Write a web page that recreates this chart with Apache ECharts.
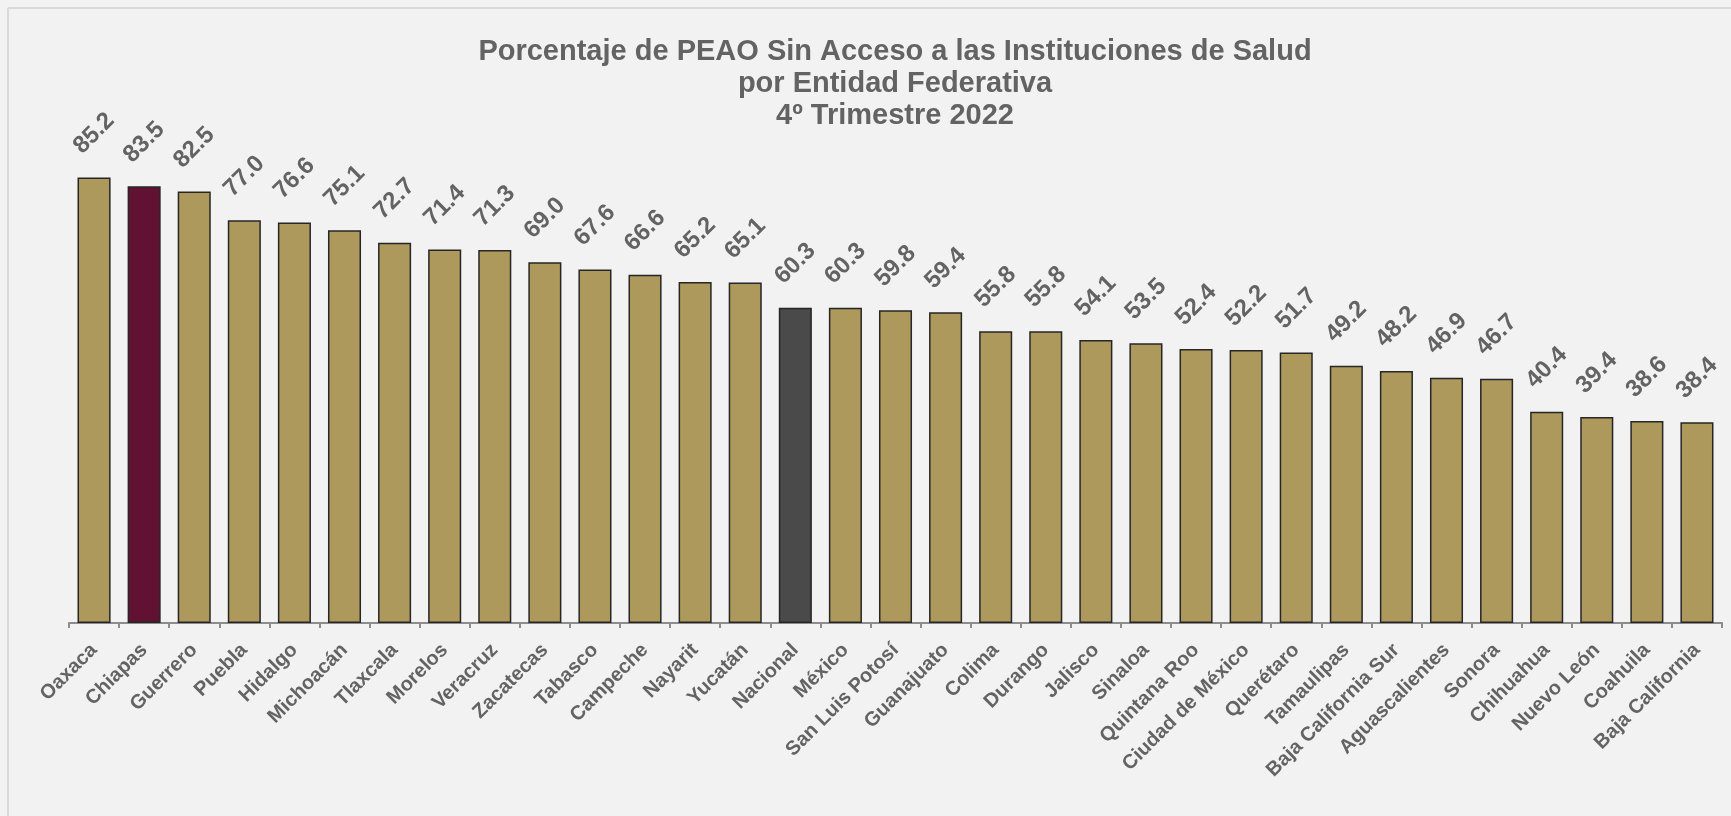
<!DOCTYPE html>
<html>
<head>
<meta charset="utf-8">
<script src="https://cdn.jsdelivr.net/npm/echarts@6/dist/echarts.min.js"></script>
<style>
html,body{margin:0;padding:0;background:#f2f2f2;}
#chart{width:1731px;height:816px;}
</style>
</head>
<body>
<div id="chart"></div>
<script>
const titleText = 'Porcentaje de PEAO Sin Acceso a las Instituciones de Salud\npor Entidad Federativa\n4º Trimestre 2022';
const categories = ['Oaxaca','Chiapas','Guerrero','Puebla','Hidalgo','Michoacán','Tlaxcala','Morelos','Veracruz','Zacatecas','Tabasco','Campeche','Nayarit','Yucatán','Nacional','México','San Luis Potosí','Guanajuato','Colima','Durango','Jalisco','Sinaloa','Quintana Roo','Ciudad de México','Querétaro','Tamaulipas','Baja California Sur','Aguascalientes','Sonora','Chihuahua','Nuevo León','Coahuila','Baja California'];
const values = [85.2,83.5,82.5,77.0,76.6,75.1,72.7,71.4,71.3,69.0,67.6,66.6,65.2,65.1,60.3,60.3,59.8,59.4,55.8,55.8,54.1,53.5,52.4,52.2,51.7,49.2,48.2,46.9,46.7,40.4,39.4,38.6,38.4];
const highlight = {'Chiapas':'#611232','Nacional':'#4a4a4a'};
const baseColor = '#ae995c';

const chart = echarts.init(document.getElementById('chart'));
const FONT = '"Liberation Sans", Arial, sans-serif';
chart.setOption({
  backgroundColor: '#f2f2f2',
  animation: false,
  title: {
    text: titleText,
    left: 890, top: 31, textAlign: 'center',
    textStyle: {fontFamily: FONT, fontSize: 29, fontWeight: 'bold', color: '#636363', lineHeight: 32}
  },
  graphic: [
    {type: 'line', shape: {x1: 8, y1: 8, x2: 1731, y2: 8}, style: {stroke: '#d9d9d9', lineWidth: 2}},
    {type: 'line', shape: {x1: 8, y1: 8, x2: 8, y2: 816}, style: {stroke: '#d9d9d9', lineWidth: 2}}
  ],
  grid: {left: 69, right: 9, top: 100, bottom: 193},
  xAxis: {
    type: 'category',
    data: categories,
    axisLine: {lineStyle: {color: '#8c8c8c', width: 2}},
    axisTick: {show: true, length: 5, lineStyle: {color: '#8c8c8c', width: 2}},
    axisLabel: {rotate: 45, interval: 0, margin: 24, fontFamily: FONT, fontSize: 20, fontWeight: 'bold', color: '#636363'}
  },
  yAxis: {type: 'value', min: 0, max: 100, show: false, splitLine: {show: false}},
  series: [{
    type: 'bar',
    data: values.map((v, i) => ({value: v, itemStyle: {color: highlight[categories[i]] || baseColor}})),
    barCategoryGap: '34%',
    itemStyle: {borderColor: '#262626', borderWidth: 1.5},
    label: {
      show: true, position: 'top', distance: 44, rotate: 45,
      align: 'center', verticalAlign: 'middle',
      formatter: p => p.value.toFixed(1),
      fontFamily: FONT, fontSize: 24, fontWeight: 'bold', color: '#636363'
    }
  }]
});
</script>
</body>
</html>
